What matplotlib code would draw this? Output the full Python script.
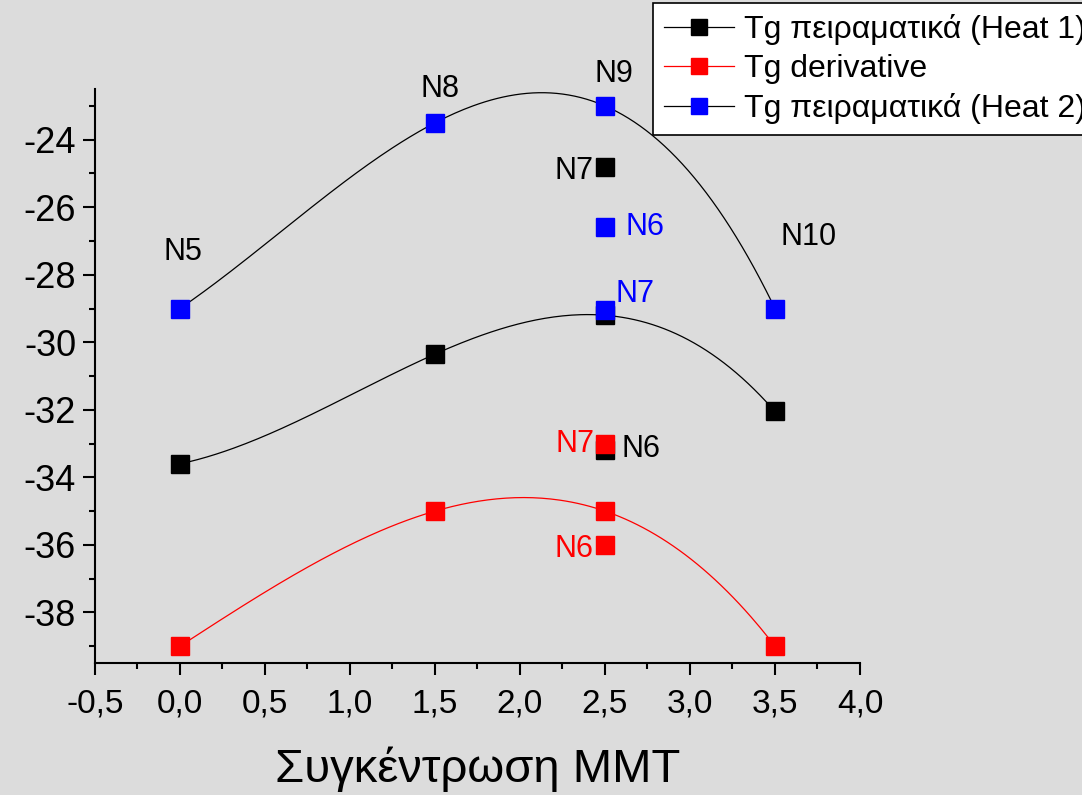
import numpy as np
import matplotlib.pyplot as plt
from matplotlib.lines import Line2D

plt.rcParams['font.family'] = ['Liberation Sans', 'DejaVu Sans']
plt.rcParams['axes.unicode_minus'] = False

# dati (concentrazione MMT, Tg)
mmt = [0.0, 1.5, 2.5, 3.5]
tg_heat1 = [-33.6, -30.35, -29.2, -32.05]
tg_deriv = [-39.0, -35.0, -35.0, -39.0]
tg_heat2 = [-29.0, -23.5, -23.0, -29.0]

# punti extra a 2.5 (N6, N7)
extra_x = [2.5, 2.5]
extra_heat1 = [-24.8, -33.2]
extra_deriv = [-36.0, -33.0]
extra_heat2 = [-26.6, -29.05]

labels = ['Tg πειραματικά (Heat 1)', 'Tg derivative', 'Tg πειραματικά (Heat 2)']
xticks = [-0.5, 0.0, 0.5, 1.0, 1.5, 2.0, 2.5, 3.0, 3.5, 4.0]
yticks = [-38, -36, -34, -32, -30, -28, -26, -24]

bg = '#dcdcdc'
fig = plt.figure(figsize=(10.82, 7.95), dpi=100, facecolor=bg)
ax = fig.add_axes([0.0878, 0.166, 0.707, 0.722])
ax.set_facecolor(bg)

xs = np.linspace(0.0, 3.5, 200)


# curva liscia che passa per i quattro punti
def smooth(ys):
    c = np.polyfit(mmt, ys, 3)
    return np.polyval(c, xs)


ms = 12.5
ax.plot(xs, smooth(tg_heat1), color='black', lw=0.9)
ax.plot(mmt, tg_heat1, 's', color='black', ms=ms, ls='none')
ax.plot(extra_x, extra_heat1, 's', color='black', ms=ms, ls='none')

ax.plot(xs, smooth(tg_deriv), color='red', lw=0.9)
ax.plot(mmt, tg_deriv, 's', color='red', ms=ms, ls='none')
ax.plot(extra_x, extra_deriv, 's', color='red', ms=ms, ls='none')

ax.plot(xs, smooth(tg_heat2), color='black', lw=0.9)
ax.plot(mmt, tg_heat2, 's', color='blue', ms=ms, ls='none')
ax.plot(extra_x, extra_heat2, 's', color='blue', ms=ms, ls='none')

# etichette dei campioni
fs = 22
ax.text(0.02, -27.34, 'N5', fontsize=fs, ha='center', va='center')
ax.text(1.53, -22.49, 'N8', fontsize=fs, ha='center', va='center')
ax.text(2.55, -22.05, 'N9', fontsize=fs, ha='center', va='center')
ax.text(2.43, -24.92, 'N7', fontsize=fs, ha='right', va='center')
ax.text(2.62, -26.6, 'N6', fontsize=fs, ha='left', va='center', color='blue')
ax.text(3.53, -26.87, 'N10', fontsize=fs, ha='left', va='center')
ax.text(2.56, -28.56, 'N7', fontsize=fs, ha='left', va='center', color='blue')
ax.text(2.44, -33.0, 'N7', fontsize=fs, ha='right', va='center', color='red')
ax.text(2.6, -33.17, 'N6', fontsize=fs, ha='left', va='center')
ax.text(2.43, -36.13, 'N6', fontsize=fs, ha='right', va='center', color='red')

ax.set_xlim(-0.5, 4.0)
ax.set_ylim(-39.5, -22.5)
ax.set_xticks(xticks)
ax.set_xticklabels([('%.1f' % v).replace('.', ',') for v in xticks])
ax.set_xticks(np.arange(-0.25, 4.0, 0.5), minor=True)
ax.set_yticks(yticks)
ax.set_yticks(np.arange(-39, -22, 2), minor=True)
ax.tick_params(width=1.5, length=8.6, direction='out')
ax.tick_params(axis='y', labelsize=26, pad=5)
ax.tick_params(axis='x', labelsize=24, pad=10)
ax.tick_params(which='minor', width=1.5, length=4.3)
for s in ['top', 'right']:
    ax.spines[s].set_visible(False)
for s in ['left', 'bottom']:
    ax.spines[s].set_linewidth(1.5)

ax.set_xlabel('Συγκέντρωση ΜΜΤ', fontsize=34, labelpad=19)

# legenda (in parte fuori dalla figura, come nell'originale)
hl = [Line2D([], [], color='black', lw=0.9, marker='s', mfc='black', mec='black', ms=11),
      Line2D([], [], color='red', lw=0.9, marker='s', mfc='red', mec='red', ms=11),
      Line2D([], [], color='black', lw=0.9, marker='s', mfc='blue', mec='blue', ms=11)]
leg = fig.legend(hl, labels, loc='upper left', bbox_to_anchor=(0.6035, 0.996),
                 fontsize=23, frameon=True, fancybox=False, edgecolor='black',
                 framealpha=1, handlelength=2.2, handletextpad=0.3,
                 labelspacing=0.28, borderpad=0.35, borderaxespad=0)
leg.get_frame().set_linewidth(1.2)

fig.savefig('out.png', dpi=100, facecolor=bg)
